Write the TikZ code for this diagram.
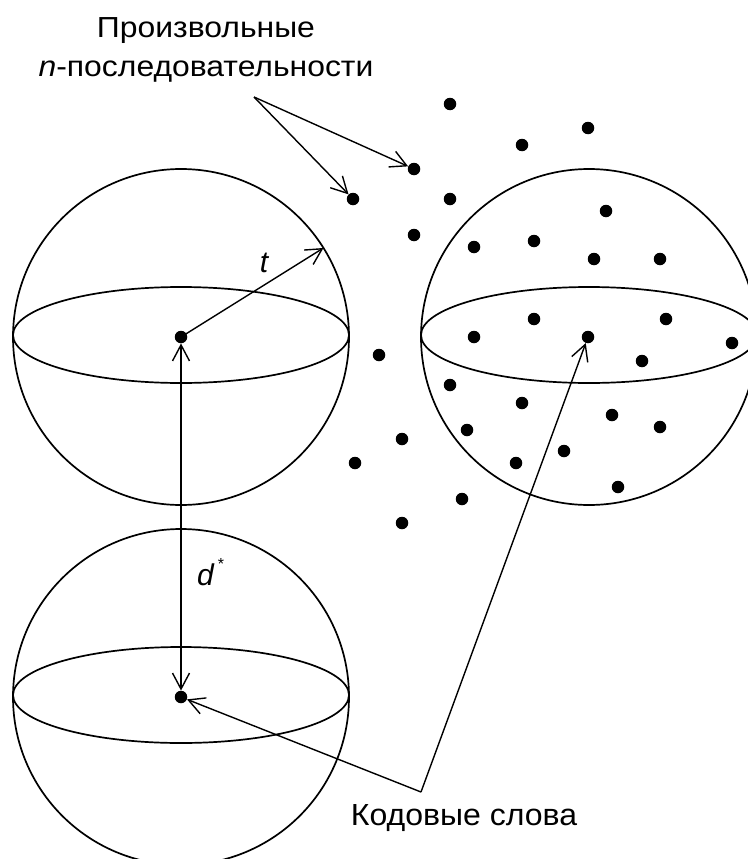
\documentclass[tikz,border=0pt]{standalone}
\usepackage{fontspec}
\setmainfont{Liberation Sans}
\newfontfamily\widesans[FakeStretch=1.1]{Liberation Sans}
\newfontfamily\labelsans[FakeStretch=1.05]{Liberation Sans}
\usetikzlibrary{arrows.meta,shapes.geometric}
\begin{document}
\begin{tikzpicture}[x=1pt,y=-1pt,
  sphere/.style={circle,draw,line width=1.7pt,minimum size=336pt,inner sep=0pt,outer sep=0pt},
  equator/.style={ellipse,draw,line width=1.7pt,minimum width=336pt,minimum height=96pt,inner sep=0pt,outer sep=0pt},
  dot/.style={circle,fill=black,inner sep=0pt,minimum size=12.5pt},
  barb/.tip={Straight Barb[length=16pt,width=17pt,line width=1.4pt]},
  ptr/.style={line width=1.4pt,-barb},
  caption/.style={font=\widesans\fontsize{29}{39.5}\selectfont,align=center,inner sep=0pt},
  math/.style={font=\fontsize{30}{34}\selectfont\itshape,inner sep=0pt},
]
\useasboundingbox (0,0) rectangle (747,859);

% three spheres with their equators
\node[sphere] (sA) at (181,337) {};
\node[equator] (eA) at (181,335) {};
\node[sphere] (sB) at (181,697) {};
\node[equator] (eB) at (181,695) {};
\node[sphere] (sC) at (589,337) {};
\node[equator] (eC) at (589,335) {};

% code words at the sphere centres
\node[dot] (cA) at (181,337) {};
\node[dot] (cB) at (181,697) {};
\node[dot] (cC) at (588,337) {};

% arbitrary n-sequences
\node[dot] (p1) at (353,199) {};
\node[dot] (p2) at (414,169) {};
\foreach \x/\y [count=\i] in {450/104, 588/128, 522/145, 450/199, 606/211,
    414/235, 474/247, 534/241, 594/259, 660/259, 534/319, 666/319,
    474/337, 732/343, 379/355, 642/361, 450/385, 522/403, 612/415,
    660/427, 467/430, 402/439, 355/463, 564/451, 516/463, 618/487,
    462/499, 402/523}
  \node[dot] (q\i) at (\x,\y) {};

% radius t
\draw[ptr] (cA.center) -- (sA.32);
\node[math,anchor=base] (tlab) at (264,272) {t};

% distance d*
\draw[line width=1.4pt,barb-barb] (cA) -- (cB);
\node[math,anchor=base west] (dlab) at (197,585)
  {d\kern4pt\raisebox{16pt}{\upshape\fontsize{16}{16}\selectfont *}};

% labels with their pointers
\node[caption,anchor=base] (seqlab) at (206,77)
  {Произвольные\\\textit{n}-последовательности};
\coordinate (seqfork) at (254,97);
\draw[ptr] (seqfork) -- (p1);
\draw[ptr] (seqfork) -- (p2);

\node[caption,font=\labelsans\fontsize{30.5}{36}\selectfont,anchor=base] (cwlab) at (464,825) {Кодовые слова};
\coordinate (cwfork) at (421,792);
\draw[ptr] (cwfork) -- (cB);
\draw[ptr] (cwfork) -- (cC);
\end{tikzpicture}
\end{document}
